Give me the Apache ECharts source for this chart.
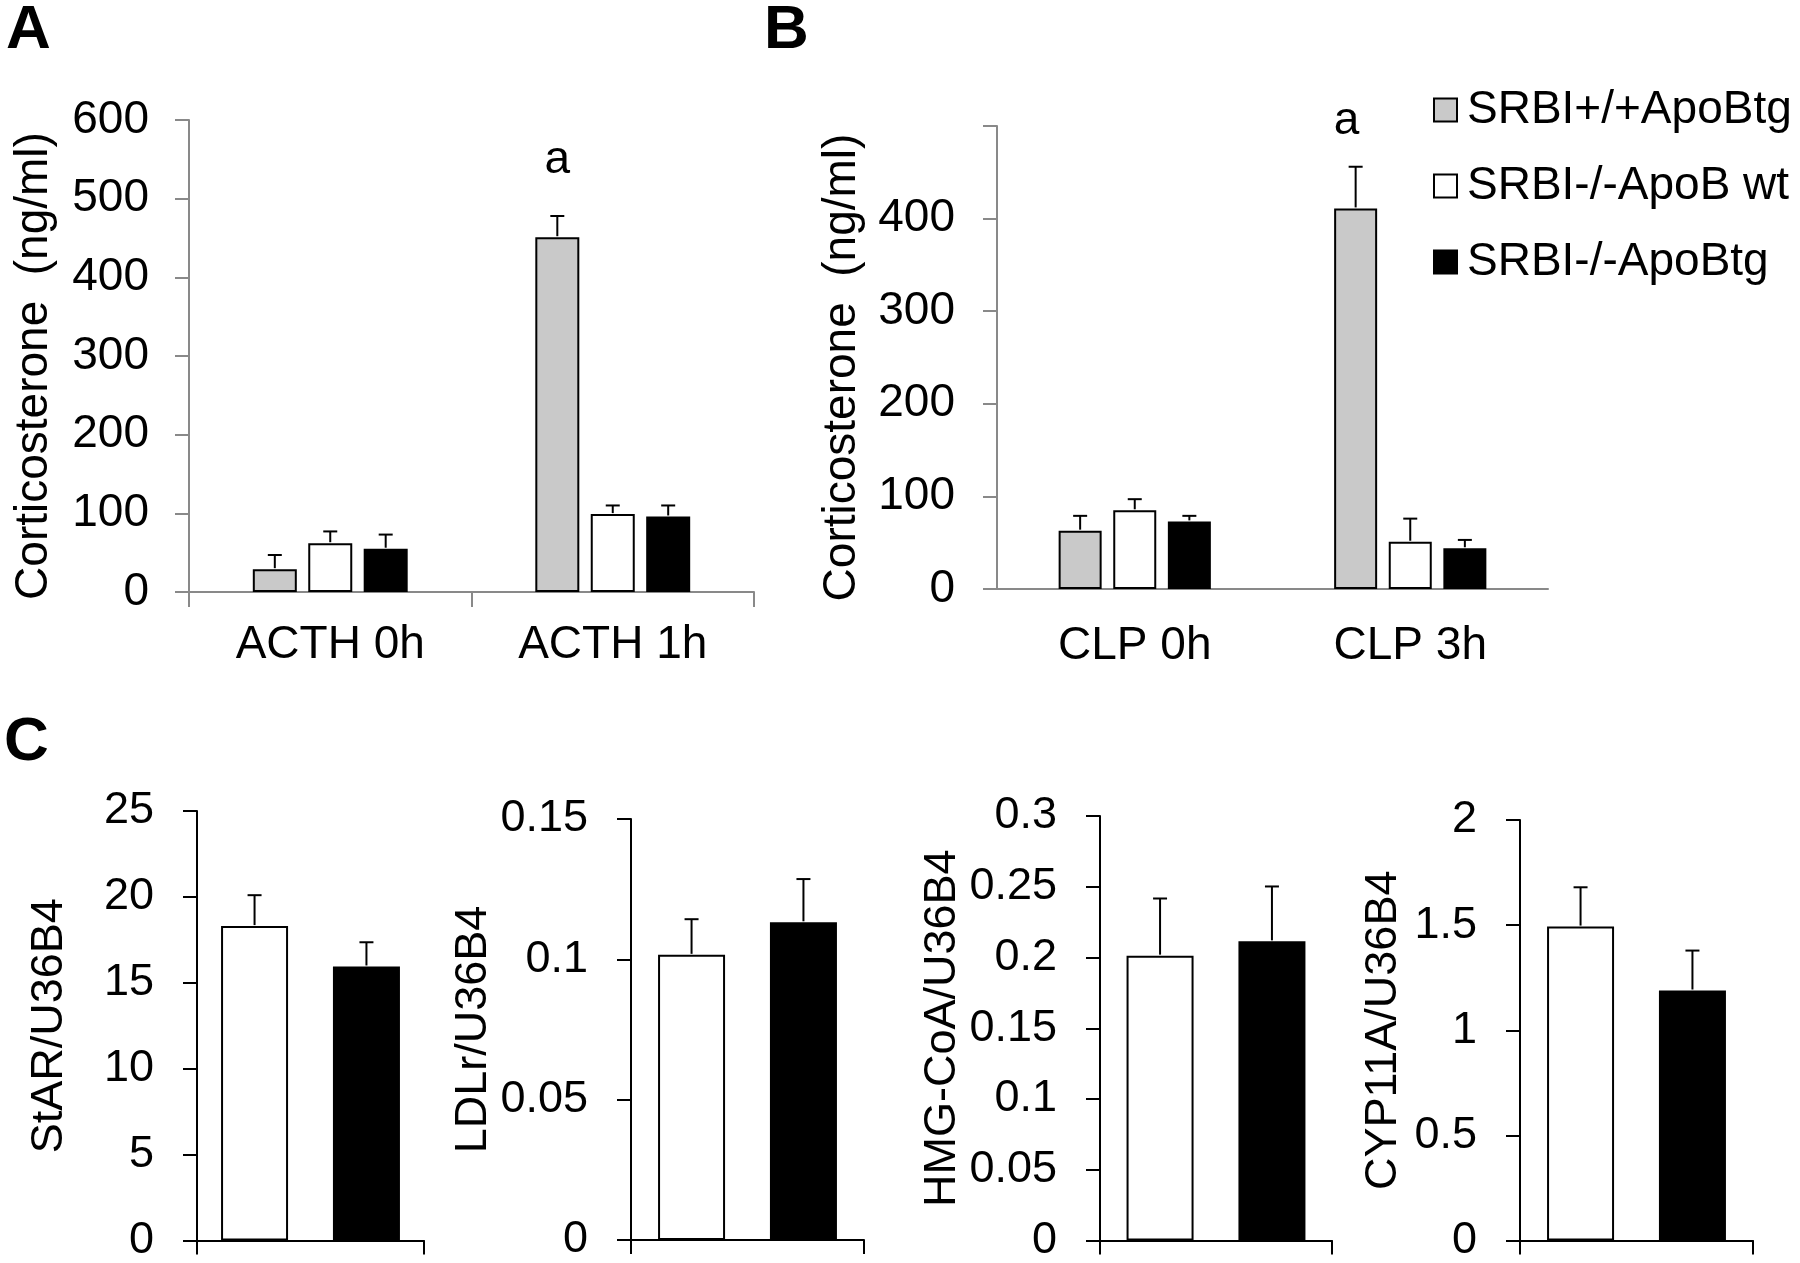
<!DOCTYPE html>
<html>
<head>
<meta charset="utf-8">
<script src="https://cdn.jsdelivr.net/npm/echarts@6/dist/echarts.min.js"></script>
<style>
html,body{margin:0;padding:0;background:#fff;}
#chart{width:1800px;height:1263px;}
</style>
</head>
<body>
<div id="chart"></div>
<script>
// ---------- DATA ----------
const groupNames = ['SRBI+/+ApoBtg', 'SRBI-/-ApoB wt', 'SRBI-/-ApoBtg'];

// Panel A
const catsA = ['ACTH 0h', 'ACTH 1h'];
const acthGray = [29, 451];
const acthGrayErr = [18, 27];
const acthWhite = [62, 99];
const acthWhiteErr = [15, 11];
const acthBlack = [55, 96];
const acthBlackErr = [18, 14];
const acthSig = ['', 'a'];
const acthTicks = { min: 0, max: 600, step: 100 };

// Panel B
const catsB = ['CLP 0h', 'CLP 3h'];
const clpGray = [63, 411];
const clpGrayErr = [16, 45];
const clpWhite = [85, 51];
const clpWhiteErr = [12, 25];
const clpBlack = [73, 44];
const clpBlackErr = [6, 9];
const clpSig = ['', 'a'];
const clpTicks = { min: 0, max: 500, step: 100, hidden: [500] };

// Panel C
const geneLabels = ['StAR/U36B4', 'LDLr/U36B4', 'HMG-CoA/U36B4', 'CYP11A/U36B4'];
const geneWhite = [18.3, 0.1016, 0.2013, 1.493];
const geneWhiteErr = [1.8, 0.0127, 0.0404, 0.187];
const geneBlack = [15.95, 0.1132, 0.2114, 1.189];
const geneBlackErr = [1.41, 0.0154, 0.0388, 0.19];
const geneMax = [25, 0.15, 0.3, 2];
const geneStep = [5, 0.05, 0.05, 0.5];

// ---------- STYLE / LAYOUT ----------
const FONT = 'Liberation Sans, Arial, Helvetica, sans-serif';
const fills = ['#c9c9c9', '#ffffff', '#000000'];
const grayAxis = '#898989';

const grids = [
  { left: 189, top: 120, width: 565, height: 472 },   // A
  { left: 997, top: 126, width: 551, height: 463 },   // B
  { left: 197, top: 811, width: 227, height: 430 },   // C1
  { left: 631, top: 819, width: 233, height: 421 },   // C2
  { left: 1100, top: 816, width: 232, height: 426 },  // C3
  { left: 1520, top: 820, width: 233, height: 421 }   // C4
];

function barOffset(i, n, w, gap) {
  const total = n * w + (n - 1) * gap * w;
  return -total / 2 + w / 2 + i * (w + gap * w);
}

function errSeries(gridIdx, means, errs, offset) {
  return {
    type: 'custom',
    xAxisIndex: gridIdx,
    yAxisIndex: gridIdx,
    silent: true,
    z: 5,
    encode: { x: 0, y: 1 },
    data: means.map((m, i) => [i, m + errs[i], m]),
    renderItem: function (params, api) {
      const i = api.value(0);
      const base = api.coord([i, api.value(2)]);
      const top = api.coord([i, api.value(1)]);
      const x = base[0] + offset;
      const cap = 7;
      return {
        type: 'group',
        children: [
          { type: 'line', shape: { x1: x, y1: base[1] - 1, x2: x, y2: top[1] }, style: { stroke: '#000', lineWidth: 2 } },
          { type: 'line', shape: { x1: x - cap, y1: top[1], x2: x + cap, y2: top[1] }, style: { stroke: '#000', lineWidth: 2 } }
        ]
      };
    }
  };
}

function barSeries(gridIdx, name, vals, color, w, gap, sig, sigDist, sigOffX) {
  return {
    type: 'bar',
    name: name,
    xAxisIndex: gridIdx,
    yAxisIndex: gridIdx,
    barWidth: w,
    barGap: (gap * 100) + '%',
    itemStyle: { color: color, borderColor: '#000', borderWidth: 2 },
    emphasis: { disabled: true },
    data: vals.map((v, i) => {
      const item = { value: v };
      if (sig && sig[i]) {
        item.label = {
          show: true, position: 'top', distance: sigDist, formatter: sig[i],
          offset: [sigOffX || 0, 0],
          fontSize: 46, color: '#000', fontFamily: FONT
        };
      }
      return item;
    })
  };
}

const xAxes = [];
const yAxes = [];
const series = [];

const bigName = { fontSize: 46, color: '#000', fontFamily: FONT, padding: [0, 20, 0, 0] };

// Panel A axes
xAxes.push({
  type: 'category', gridIndex: 0, data: catsA,
  axisLine: { lineStyle: { color: grayAxis, width: 2 } },
  axisTick: { show: true, length: 15, lineStyle: { color: grayAxis, width: 2 } },
  axisLabel: { fontSize: 46, color: '#000', margin: 30, fontFamily: FONT }
});
yAxes.push({
  type: 'value', gridIndex: 0, min: acthTicks.min, max: acthTicks.max, interval: acthTicks.step,
  name: 'Corticosterone  (ng/ml)', nameLocation: 'middle', nameGap: 132,
  nameTextStyle: bigName,
  axisLine: { show: true, lineStyle: { color: grayAxis, width: 2 } },
  axisTick: { show: true, length: 14, lineStyle: { color: grayAxis, width: 2 } },
  axisLabel: { fontSize: 46, color: '#000', margin: 40, fontFamily: FONT },
  splitLine: { show: false }
});
// Panel B axes
xAxes.push({
  type: 'category', gridIndex: 1, data: catsB,
  axisLine: { lineStyle: { color: grayAxis, width: 2 } },
  axisTick: { show: false },
  axisLabel: { fontSize: 46, color: '#000', margin: 34, fontFamily: FONT }
});
yAxes.push({
  type: 'value', gridIndex: 1, min: clpTicks.min, max: clpTicks.max, interval: clpTicks.step,
  name: 'Corticosterone  (ng/ml)', nameLocation: 'middle', nameGap: 132,
  nameTextStyle: bigName,
  axisLine: { show: true, lineStyle: { color: grayAxis, width: 2 } },
  axisTick: { show: true, length: 14, lineStyle: { color: grayAxis, width: 2 } },
  axisLabel: {
    fontSize: 46, color: '#000', margin: 42, fontFamily: FONT,
    formatter: v => (clpTicks.hidden.indexOf(v) >= 0 ? '' : String(v))
  },
  splitLine: { show: false }
});

// Panel A series
const aVals = [acthGray, acthWhite, acthBlack];
const aErrs = [acthGrayErr, acthWhiteErr, acthBlackErr];
for (let s = 0; s < 3; s++) {
  series.push(barSeries(0, groupNames[s], aVals[s], fills[s], 44, 0.26, s === 0 ? acthSig : null, 54, 0));
}
for (let s = 0; s < 3; s++) {
  series.push(errSeries(0, aVals[s], aErrs[s], barOffset(s, 3, 44, 0.26)));
}
// Panel B series
const bVals = [clpGray, clpWhite, clpBlack];
const bErrs = [clpGrayErr, clpWhiteErr, clpBlackErr];
for (let s = 0; s < 3; s++) {
  series.push(barSeries(1, groupNames[s], bVals[s], fills[s], 43, 0.27, s === 0 ? clpSig : null, 64, -9));
}
for (let s = 0; s < 3; s++) {
  series.push(errSeries(1, bVals[s], bErrs[s], barOffset(s, 3, 43, 0.27)));
}

// Panel C
const cNameGaps = [125, 134, 133, 114];
for (let k = 0; k < 4; k++) {
  const gi = 2 + k;
  xAxes.push({
    type: 'category', gridIndex: gi, data: [''],
    axisLine: { lineStyle: { color: '#000', width: 2 } },
    axisTick: { show: true, length: 14, lineStyle: { color: '#000', width: 2 } },
    axisLabel: { show: false }
  });
  yAxes.push({
    type: 'value', gridIndex: gi, min: 0, max: geneMax[k], interval: geneStep[k],
    name: geneLabels[k], nameLocation: 'middle', nameGap: cNameGaps[k],
    nameTextStyle: { fontSize: 45, color: '#000', fontFamily: FONT },
    axisLine: { show: true, lineStyle: { color: '#000', width: 2 } },
    axisTick: { show: true, length: 14, lineStyle: { color: '#000', width: 2 } },
    axisLabel: { fontSize: 45, color: '#000', margin: 43, fontFamily: FONT },
    splitLine: { show: false }
  });
  series.push(barSeries(gi, groupNames[1], [geneWhite[k]], fills[1], 67, 0.67, null, 0, 0));
  series.push(barSeries(gi, groupNames[2], [geneBlack[k]], fills[2], 67, 0.67, null, 0, 0));
  series.push(errSeries(gi, [geneWhite[k]], [geneWhiteErr[k]], barOffset(0, 2, 67, 0.67)));
  series.push(errSeries(gi, [geneBlack[k]], [geneBlackErr[k]], barOffset(1, 2, 67, 0.67)));
}

const option = {
  backgroundColor: '#fff',
  animation: false,
  textStyle: { fontFamily: FONT, color: '#000' },
  title: [
    { text: 'A', left: 6, top: 0, padding: 0, textStyle: { fontSize: 62, fontWeight: 'bold', color: '#000', fontFamily: FONT } },
    { text: 'B', left: 764, top: 0, padding: 0, textStyle: { fontSize: 62, fontWeight: 'bold', color: '#000', fontFamily: FONT } },
    { text: 'C', left: 4, top: 712, padding: 0, textStyle: { fontSize: 62, fontWeight: 'bold', color: '#000', fontFamily: FONT } }
  ],
  legend: {
    data: groupNames,
    orient: 'vertical',
    left: 1433, top: 87,
    itemWidth: 23, itemHeight: 23, itemGap: 30,
    icon: 'rect',
    selectedMode: false,
    padding: 0,
    textStyle: { fontSize: 46, color: '#000', fontFamily: FONT, padding: [0, 0, 0, 5] }
  },
  grid: grids,
  xAxis: xAxes,
  yAxis: yAxes,
  series: series
};

const chart = echarts.init(document.getElementById('chart'), null, { renderer: 'canvas' });
chart.setOption(option);
</script>
</body>
</html>
